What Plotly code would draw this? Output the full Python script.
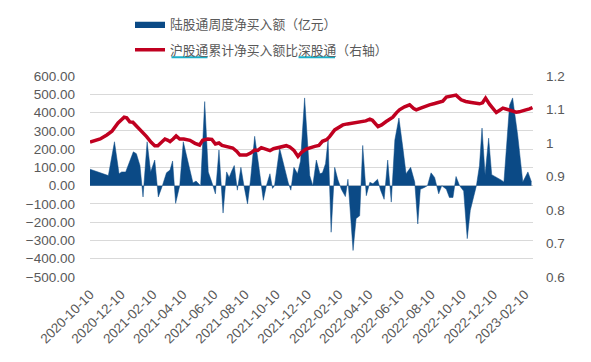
import plotly.graph_objects as go

# ---- data ----
flow_dates = [
    "2020-10-10", "2020-11-15", "2020-11-27", "2020-12-06", "2020-12-11", "2020-12-19",
    "2021-01-03", "2021-01-09", "2021-01-16", "2021-01-22", "2021-01-30", "2021-02-06",
    "2021-02-14", "2021-02-21", "2021-03-01", "2021-03-09", "2021-03-16", "2021-03-21",
    "2021-03-27", "2021-04-04", "2021-04-11", "2021-04-30", "2021-05-06", "2021-05-10",
    "2021-05-15", "2021-05-23", "2021-05-30", "2021-06-07", "2021-06-13", "2021-06-20",
    "2021-06-28", "2021-07-05", "2021-07-10", "2021-07-15", "2021-07-20", "2021-07-26",
    "2021-08-02", "2021-08-08", "2021-08-15", "2021-08-21", "2021-08-29", "2021-09-05",
    "2021-09-11", "2021-09-15", "2021-09-21", "2021-09-28", "2021-10-03", "2021-10-07",
    "2021-10-17", "2021-10-25", "2021-11-03", "2021-11-08", "2021-11-14", "2021-11-21",
    "2021-11-27", "2021-12-05", "2021-12-15", "2021-12-21", "2021-12-28", "2022-01-04",
    "2022-01-09", "2022-01-15", "2022-01-20", "2022-01-26", "2022-02-02", "2022-02-08",
    "2022-02-15", "2022-02-23", "2022-02-28", "2022-03-10", "2022-03-16", "2022-03-23",
    "2022-03-29", "2022-04-05", "2022-04-12", "2022-04-18", "2022-04-27", "2022-05-03",
    "2022-05-10", "2022-05-17", "2022-05-24", "2022-05-31", "2022-06-08", "2022-06-16",
    "2022-06-22", "2022-07-01", "2022-07-09", "2022-07-15", "2022-07-20", "2022-07-28",
    "2022-08-03", "2022-08-10", "2022-08-17", "2022-08-25", "2022-08-31", "2022-09-09",
    "2022-09-15", "2022-09-22", "2022-09-28", "2022-10-05", "2022-10-13", "2022-10-20",
    "2022-10-26", "2022-11-07", "2022-11-13", "2022-11-18", "2022-11-24", "2022-12-01",
    "2022-12-07", "2022-12-26", "2022-12-31", "2023-01-11", "2023-01-17", "2023-01-27",
    "2023-02-06", "2023-02-16", "2023-02-23",
]
flow_values = [
    90, 55, 240, 65, 75, 75,
    185, 175, 110, -62, 240, 75,
    140, -62, 0, 70, 85, 135,
    -97, 0, 240, 15, 25, 15,
    0, 460, 75, 10, -45, 195,
    -150, 75, 45, 80, 110, -25,
    100, 0, -100, 35, 270, 130,
    0, -80, 0, 65, -15, 0,
    205, 110, 15, -25, 100, 65,
    135, 480, 55, 0, 140, 65,
    70, 120, 250, -255, 100, 35,
    -20, -60, 35, -355, -180, -165,
    220, -55, 18, 10, 35, -25,
    -75, 140, -90, 250, 370, 200,
    65, 100, 20, -210, -20, -10,
    0, 70, 45, -45, 0, -20,
    -65, -65, 50, 0, -30, -290,
    -135, 0, 110, 315, 60, 260,
    60, 30, 20, 440, 480, 275,
    20, 75, 20,
]

ratio_dates = [
    "2020-10-10", "2020-10-30", "2020-11-12", "2020-11-22", "2020-12-04", "2020-12-16",
    "2020-12-21", "2020-12-27", "2021-01-02", "2021-01-10", "2021-01-19", "2021-01-29",
    "2021-02-07", "2021-02-14", "2021-02-20", "2021-02-28", "2021-03-06", "2021-03-12",
    "2021-03-16", "2021-03-22", "2021-03-28", "2021-04-04", "2021-04-12", "2021-04-24",
    "2021-05-04", "2021-05-13", "2021-05-19", "2021-05-29", "2021-06-06", "2021-06-13",
    "2021-06-20", "2021-06-26", "2021-07-05", "2021-07-17", "2021-07-25", "2021-07-31",
    "2021-08-13", "2021-08-21", "2021-08-29", "2021-09-04", "2021-09-11", "2021-09-18",
    "2021-09-28", "2021-10-05", "2021-10-14", "2021-10-21", "2021-10-30", "2021-11-06",
    "2021-11-14", "2021-11-22", "2021-11-29", "2021-12-08", "2021-12-17", "2021-12-25",
    "2022-01-02", "2022-01-09", "2022-01-17", "2022-01-23", "2022-02-02", "2022-02-10",
    "2022-02-18", "2022-02-27", "2022-03-10", "2022-03-19", "2022-03-26", "2022-04-04",
    "2022-04-12", "2022-04-17", "2022-04-28", "2022-05-05", "2022-05-14", "2022-05-21",
    "2022-05-27", "2022-06-03", "2022-06-09", "2022-06-19", "2022-06-29", "2022-07-07",
    "2022-07-12", "2022-07-22", "2022-07-30", "2022-08-07", "2022-08-17", "2022-08-27",
    "2022-09-02", "2022-09-09", "2022-09-19", "2022-09-28", "2022-10-08", "2022-10-17",
    "2022-10-28", "2022-11-05", "2022-11-13", "2022-11-19", "2022-11-25", "2022-12-03",
    "2022-12-16", "2022-12-22", "2022-12-29", "2023-01-07", "2023-01-15", "2023-01-24",
    "2023-01-30", "2023-02-05", "2023-02-12", "2023-02-19", "2023-02-25",
]
ratio_values = [
    1.003, 1.012, 1.024, 1.035, 1.060, 1.077,
    1.075, 1.063, 1.062, 1.050, 1.034, 1.019,
    1.002, 0.992, 0.992, 1.002, 1.012, 1.008,
    1.004, 1.012, 1.021, 1.012, 1.012, 1.008,
    0.999, 0.994, 1.008, 1.012, 1.011, 0.997,
    1.000, 0.993, 0.990, 0.985, 0.975, 0.964,
    0.964, 0.970, 0.979, 0.978, 0.986, 0.982,
    0.977, 0.983, 0.986, 0.988, 0.992, 0.988,
    0.978, 0.960, 0.972, 0.982, 0.987, 0.990,
    0.993, 1.005, 1.010, 1.019, 1.039, 1.048,
    1.054, 1.057, 1.059, 1.062, 1.064, 1.066,
    1.071, 1.068, 1.049, 1.054, 1.064, 1.070,
    1.077, 1.090, 1.099, 1.108, 1.114, 1.103,
    1.099, 1.105, 1.110, 1.114, 1.118, 1.124,
    1.125, 1.137, 1.140, 1.143, 1.129, 1.124,
    1.121, 1.118, 1.117, 1.120, 1.134, 1.115,
    1.091, 1.097, 1.104, 1.100, 1.096, 1.092,
    1.093, 1.097, 1.099, 1.102, 1.106,
]

tick_dates = [
    "2020-10-10", "2020-12-10", "2021-02-10", "2021-04-10", "2021-06-10",
    "2021-08-10", "2021-10-10", "2021-12-10", "2022-02-10", "2022-04-10",
    "2022-06-10", "2022-08-10", "2022-10-10", "2022-12-10", "2023-02-10",
]
left_ticks = [600, 500, 400, 300, 200, 100, 0, -100, -200, -300, -400, -500]
right_ticks = [1.2, 1.1, 1.0, 0.9, 0.8, 0.7, 0.6]

flow_name = "陆股通周度净买入额（亿元）"
ratio_name = "沪股通累计净买入额比深股通（右轴）"

BLUE = "#0B4A86"
RED = "#C00020"
GRAY = "#595959"
GRID = "#D9D9D9"
CYAN = "#1AAFC8"
X_RANGE = ["2020-10-10", "2023-02-26"]

# the page body has an 8px default margin; margins below compensate so the
# plot area lands at x 90..533, y 76..277.5 in the window
OFF = 8
PL, PR, PT, PB = 90, 533, 76, 277.5

fig = go.Figure()
fig.add_trace(go.Scatter(
    x=flow_dates, y=flow_values, name=flow_name, mode="lines",
    line=dict(color=BLUE, width=0.5), fill="tozeroy", fillcolor=BLUE,
    legendgroup="a", yaxis="y", xaxis="x",
))
fig.add_trace(go.Scatter(
    x=ratio_dates, y=ratio_values, name=ratio_name, mode="lines",
    line=dict(color=RED, width=3.5), legendgroup="b", yaxis="y2", xaxis="x",
))

axis_font = dict(family="Liberation Sans, Arial, sans-serif", size=13.5, color=GRAY)

W, H = 591, 362
fig.update_layout(
    width=W, height=H,
    margin=dict(l=PL - OFF, r=W + OFF - PR, t=PT - OFF, b=H + OFF - PB, autoexpand=False),
    paper_bgcolor="white", plot_bgcolor="white",
    font=dict(family="Liberation Sans, Noto Sans CJK SC, sans-serif", color=GRAY),
    showlegend=True,
    legend=dict(
        x=(130 - PL) / (PR - PL), y=(PB - 9) / (PB - PT), xanchor="left", yanchor="top",
        font=dict(family="Noto Sans CJK SC", size=12.8, color=GRAY),
        traceorder="grouped", tracegroupgap=6, bgcolor="rgba(0,0,0,0)",
    ),
    xaxis=dict(
        type="date", range=X_RANGE, tickvals=tick_dates, ticktext=tick_dates,
        tickangle=-45, showgrid=False, showline=False, ticks="", zeroline=False,
        tickfont=axis_font, ticklabelstandoff=6, automargin=False,
    ),
    xaxis2=dict(
        type="date", range=X_RANGE, tickvals=tick_dates, overlaying="x",
        anchor="free", position=500 / 1100, showticklabels=False,
        ticks="outside", ticklen=5, tickcolor="#BFBFBF", tickwidth=1,
        showline=True, linecolor="#BFBFBF", linewidth=1, showgrid=False, zeroline=False,
    ),
    yaxis=dict(
        range=[-500, 600], tickvals=left_ticks, tickformat=".2f",
        showgrid=True, gridcolor=GRID, gridwidth=1, zeroline=False,
        tickfont=axis_font, ticks="", ticklabelstandoff=14, automargin=False,
    ),
    yaxis2=dict(
        range=[0.6, 1.2], tickvals=right_ticks, overlaying="y", side="right",
        showgrid=False, zeroline=False, tickfont=axis_font, ticks="",
        ticklabelstandoff=12, automargin=False,
    ),
)

# cyan underlines in the legend text
def px_x(px):
    return (px - PL) / (PR - PL)

def px_y(py):
    return (PB - py) / (PB - PT)

for x0, x1 in [(171.5, 207.5), (298.5, 335)]:
    fig.add_shape(type="line", xref="paper", yref="paper",
                  x0=px_x(x0), x1=px_x(x1), y0=px_y(57.3), y1=px_y(57.3),
                  line=dict(color=CYAN, width=2))

fig.write_html("out.html")
